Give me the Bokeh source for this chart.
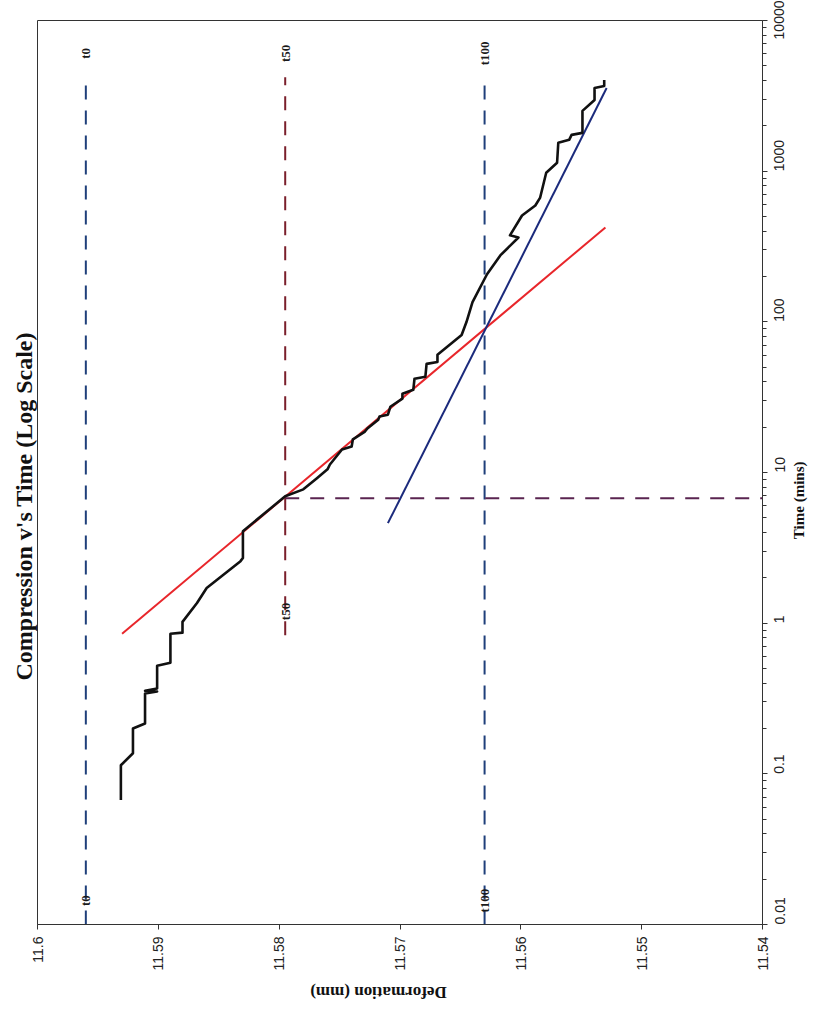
import math
from bokeh.plotting import figure
from bokeh.layouts import column, row
from bokeh.models import Range1d, FixedTicker, Title
from bokeh.core.properties import value
from bokeh.embed import file_html
from bokeh.resources import INLINE

# ---------------- data ----------------
deform_ticks = [11.6, 11.59, 11.58, 11.57, 11.56, 11.55, 11.54]
deform_tick_labels = ["11.6", "11.59", "11.58", "11.57", "11.56", "11.55", "11.54"]
time_ticks = [0.01, 0.1, 1, 10, 100, 1000, 10000]
time_tick_labels = ["0.01", "0.1", "1", "10", "100", "1000", "10000"]

curve_time = [0.067, 0.114, 0.137, 0.200, 0.216, 0.341, 0.352, 0.356, 0.368,
              0.522, 0.547, 0.851, 0.865, 1.02, 1.36, 1.71, 2.58, 2.71, 4.08,
              5.79, 6.95, 7.73, 9.14, 10.5, 11.3, 14.2, 14.9, 16.6, 18.7, 19.6,
              22.4, 23.5, 24.2, 27.3, 30.9, 33.3, 35.4, 41.9, 43.2, 52.6, 54.2,
              60.4, 81.8, 99.7, 135, 207, 276, 363, 375, 508, 592, 668, 977,
              1138, 1543, 1614, 1742, 1796, 2512, 2970, 3565, 3675, 4025]
curve_deform = [11.5931, 11.5931, 11.5921, 11.5921, 11.5911, 11.5911, 11.5901, 11.5911, 11.5901,
                11.5901, 11.5890, 11.5890, 11.5880, 11.5880, 11.5868, 11.5860, 11.5832, 11.5830, 11.5830,
                11.5807, 11.5795, 11.5780, 11.5769, 11.5760, 11.5758, 11.5748, 11.5740, 11.5739, 11.5729, 11.5727,
                11.5718, 11.5717, 11.5710, 11.5708, 11.5698, 11.5698, 11.5689, 11.5688, 11.5679, 11.5678, 11.5669,
                11.5669, 11.5649, 11.5645, 11.5640, 11.5628, 11.5617, 11.5602, 11.5609, 11.5599, 11.5588, 11.5584, 11.5579,
                11.5570, 11.5569, 11.5560, 11.5558, 11.5549, 11.5549, 11.5539, 11.5539, 11.5531, 11.5531]

t0_deform = 11.5960
t50_deform = 11.5795
t100_deform = 11.5630
t50_time = 6.74

t0_span = [0.01, 4200]
t50_span = [0.83, 4200]
t100_span = [0.01, 4200]
t50_vert_deform = [11.5795, 11.54]

red_deform = [11.5930, 11.5530]
red_time = [0.85, 423]
blue_deform = [11.5710, 11.5529]
blue_time = [4.61, 3565]

title_text = "Compression v's Time (Log Scale)"
xlabel_text = "Time (mins)"
ylabel_text = "Deformation (mm)"

# ---------------- main figure ----------------
MAIN_W, MAIN_H = 796, 974
p = figure(width=MAIN_W, height=MAIN_H,
           x_range=Range1d(11.6, 11.54), y_range=Range1d(0.01, 10000),
           y_axis_type="log", y_axis_location="right", x_axis_location="below",
           output_backend="svg", toolbar_location=None,
           min_border_left=37, min_border_right=34, min_border_top=20, min_border_bottom=50)
p.xgrid.visible = False
p.ygrid.visible = False
p.outline_line_color = "#333333"
p.outline_line_width = 1
p.background_fill_color = "white"
p.border_fill_color = "white"

# bottom axis (deformation)
xa = p.xaxis[0]
xa.ticker = FixedTicker(ticks=deform_ticks)
xa.major_label_overrides = {t: l for t, l in zip(deform_ticks, deform_tick_labels)}
xa.major_label_orientation = math.pi / 2
xa.major_label_text_font = "Liberation Sans"
xa.major_label_text_font_size = "14px"
xa.major_label_text_color = "#222222"
xa.major_tick_out = 5
xa.major_tick_in = 0
xa.minor_tick_line_color = None
xa.major_label_standoff = 7
xa.axis_line_color = "#333333"
xa.major_tick_line_color = "#333333"

# right axis (time, log)
ya = p.yaxis[0]
minor = [k * 10.0 ** e for e in range(-2, 4) for k in range(2, 10)]
ya.ticker = FixedTicker(ticks=time_ticks, minor_ticks=minor)
ya.major_label_overrides = {t: l for t, l in zip(time_ticks, time_tick_labels)}
ya.major_label_orientation = math.pi / 2
ya.major_label_text_font = "Liberation Sans"
ya.major_label_text_font_size = "14px"
ya.major_label_text_color = "#222222"
ya.major_tick_out = 5
ya.major_tick_in = 0
ya.minor_tick_out = 4
ya.minor_tick_in = 0
ya.major_label_standoff = 12
ya.axis_line_color = "#333333"
ya.major_tick_line_color = "#333333"
ya.minor_tick_line_color = "#333333"

# chart title on the left edge (page is rotated 90 degrees)
p.add_layout(Title(text=title_text, align="left", offset=244, standoff=2,
                   text_font="Liberation Serif", text_font_style="bold", text_font_size="24px",
                   text_color="#111111"), "left")

dash = "14 11"
# reference lines
p.line(x=[t0_deform, t0_deform], y=t0_span, line_color="#1f3f7a", line_width=2, line_dash=dash)
p.line(x=[t50_deform, t50_deform], y=t50_span, line_color="#7a1f2b", line_width=2, line_dash=dash)
p.line(x=[t100_deform, t100_deform], y=t100_span, line_color="#1f3f7a", line_width=2, line_dash=dash)
p.line(x=t50_vert_deform, y=[t50_time, t50_time], line_color="#5a2450", line_width=2, line_dash=dash)

# fit lines
p.line(x=red_deform, y=red_time, line_color="#e8262b", line_width=2)
p.line(x=blue_deform, y=blue_time, line_color="#1b2a7c", line_width=2)

# measured curve
p.line(x=curve_deform, y=curve_time, line_color="#111111", line_width=2.6, line_join="round")

# end labels of reference lines
lab_shift = 1.44
lab_x, lab_y, lab_t = [], [], []
for d, span, name in [(t0_deform, t0_span, "t0"), (t50_deform, t50_span, "t50"), (t100_deform, t100_span, "t100")]:
    lab_x += [d, d]
    lab_y += [span[0] * lab_shift, span[1] * lab_shift]
    lab_t += [name, name]
p.text(x=lab_x, y=lab_y, text=lab_t, angle=math.pi / 2, text_align="center", text_baseline="middle",
       text_font=value("Liberation Serif"), text_font_style="bold", text_font_size="13px", text_color="#1a1a1a")


# ---------------- rotated axis titles in thin side panels ----------------
def label_panel(w, h, **kw):
    f = figure(width=w, height=h, x_range=Range1d(0, w), y_range=Range1d(0, h),
               output_backend="svg", toolbar_location=None,
               x_axis_location=None, y_axis_location=None, min_border=0, **kw)
    f.xgrid.visible = False
    f.ygrid.visible = False
    f.outline_line_color = None
    f.background_fill_color = None
    f.border_fill_color = None
    return f


RIGHT_W = 20
pr = label_panel(RIGHT_W, MAIN_H, margin=(0, 0, 0, -7))
pr.text(x=[9], y=[MAIN_H - 517], text=[xlabel_text], angle=math.pi / 2,
        text_align="center", text_baseline="middle",
        text_font=value("Liberation Serif"), text_font_style="bold", text_font_size="15px",
        text_color="#111111")

BOTTOM_H = 34
pb = label_panel(MAIN_W + RIGHT_W - 7, BOTTOM_H)
pb.text(x=[378], y=[BOTTOM_H - (992 - MAIN_H)], text=[ylabel_text], angle=math.pi,
        text_align="center", text_baseline="middle",
        text_font=value("Liberation Serif"), text_font_style="bold", text_font_size="17px",
        text_color="#111111")

layout = column(row(p, pr, spacing=0), pb, spacing=0)

open("out.html", "w").write(file_html(layout, INLINE))
